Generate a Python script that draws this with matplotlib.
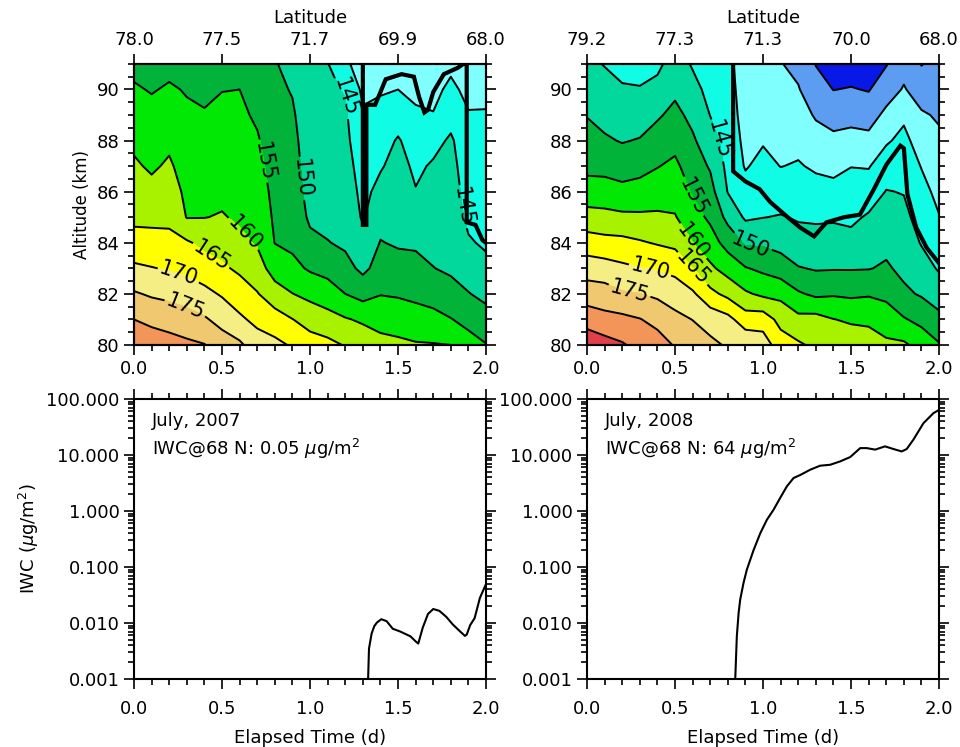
import numpy as np
import matplotlib
matplotlib.use("Agg")
import matplotlib.pyplot as plt
from matplotlib.ticker import MultipleLocator, LogLocator, FormatStrFormatter, NullFormatter

# elapsed time (d) and altitude (km) of the temperature grid
TIME = [0.0, 0.1, 0.2, 0.3, 0.4, 0.5, 0.6, 0.7, 0.8, 0.9, 1.0,
        1.1, 1.2, 1.3, 1.4, 1.5, 1.6, 1.7, 1.8, 1.9, 2.0]
ALT = [80, 81, 82, 83, 84, 85, 86, 87, 88, 89, 90, 91]

# temperature (K) along the trajectory, one row per time, 80..91 km
T_2007 = [
    [184.0, 180.0, 175.5, 170.9, 166.7, 164.0, 162.4, 160.7, 159.0, 157.3, 155.5, 153.8],
    [183.0, 178.7, 174.4, 170.2, 166.7, 163.8, 161.4, 159.3, 157.8, 156.3, 154.7, 153.3],
    [182.0, 177.9, 173.8, 169.6, 166.1, 164.1, 162.4, 160.7, 159.0, 157.3, 155.5, 153.8],
    [181.0, 177.0, 172.7, 168.8, 165.6, 159.8, 158.9, 157.9, 156.8, 155.7, 154.7, 153.6],
    [180.2, 175.6, 171.3, 167.4, 163.7, 159.9, 158.8, 157.7, 156.5, 155.3, 154.2, 153.2],
    [177.5, 173.3, 169.5, 165.8, 162.9, 160.3, 159.0, 158.0, 156.9, 155.9, 154.9, 153.9],
    [175.9, 170.8, 167.5, 164.1, 161.0, 159.4, 158.5, 157.6, 156.8, 155.9, 155.0, 154.0],
    [172.2, 168.8, 165.3, 162.0, 159.6, 158.6, 157.6, 156.5, 155.5, 154.3, 153.3, 152.3],
    [171.2, 167.3, 162.0, 158.0, 154.9, 154.2, 153.6, 153.0, 152.4, 151.7, 151.0, 150.3],
    [169.5, 165.1, 160.1, 156.3, 154.0, 153.2, 152.5, 151.9, 151.3, 150.6, 149.7, 148.6],
    [167.0, 163.2, 158.6, 154.4, 151.2, 149.2, 148.3, 147.8, 147.4, 147.0, 146.5, 145.8],
    [166.3, 161.8, 157.3, 153.4, 150.2, 148.6, 147.8, 147.2, 146.7, 146.2, 145.7, 145.2],
    [164.7, 160.4, 155.0, 151.6, 149.2, 148.2, 147.5, 146.8, 146.1, 145.7, 144.7, 141.0],
    [163.0, 159.3, 153.2, 148.9, 146.5, 144.5, 143.8, 143.0, 142.0, 140.6, 139.0, 137.5],
    [161.5, 158.3, 154.8, 151.8, 150.2, 148.6, 146.3, 144.6, 143.2, 141.5, 139.5, 137.5],
    [161.0, 157.8, 154.5, 151.7, 149.5, 148.5, 147.5, 146.5, 145.4, 143.0, 140.0, 137.5],
    [160.4, 157.2, 153.8, 151.5, 149.3, 147.3, 145.2, 144.2, 143.0, 141.0, 138.5, 136.5],
    [160.3, 156.3, 153.3, 150.1, 148.8, 147.8, 146.8, 145.5, 143.7, 140.2, 138.8, 137.5],
    [160.0, 155.2, 151.6, 149.3, 148.5, 147.8, 147.0, 146.3, 145.6, 143.5, 141.0, 139.0],
    [157.0, 153.5, 150.2, 147.8, 145.5, 144.0, 143.3, 142.8, 142.2, 140.3, 138.8, 137.8],
    [155.2, 151.8, 148.8, 146.3, 144.3, 143.6, 143.0, 142.3, 141.5, 140.3, 139.0, 138.0],
]

T_2008 = [
    [188.5, 182.9, 177.5, 172.8, 167.2, 162.0, 157.0, 153.8, 151.8, 149.8, 147.8, 146.0],
    [187.0, 181.5, 177.2, 172.1, 166.6, 161.5, 157.1, 153.5, 150.6, 148.5, 146.5, 144.8],
    [185.5, 181.2, 175.6, 171.0, 166.4, 161.0, 156.4, 152.7, 149.7, 147.5, 145.4, 143.8],
    [183.5, 180.2, 175.1, 170.2, 165.5, 160.8, 156.9, 153.4, 150.3, 147.7, 145.3, 143.2],
    [182.2, 178.5, 174.1, 169.6, 164.6, 160.8, 157.6, 154.8, 152.1, 149.4, 146.6, 143.8],
    [179.6, 176.3, 172.7, 168.6, 163.8, 160.3, 158.2, 156.0, 153.5, 151.3, 149.0, 147.5],
    [177.8, 174.9, 170.8, 165.1, 160.1, 157.0, 154.5, 152.5, 150.7, 148.7, 146.6, 144.5],
    [176.0, 173.2, 166.3, 160.9, 157.1, 154.1, 151.8, 149.5, 147.1, 144.9, 143.5, 142.5],
    [174.5, 171.5, 163.7, 158.0, 153.2, 148.6, 144.8, 143.7, 143.0, 142.5, 142.0, 141.5],
    [174.0, 167.3, 160.7, 155.3, 149.4, 144.3, 141.9, 139.6, 138.8, 138.0, 137.5, 137.0],
    [172.5, 167.7, 159.0, 154.0, 149.3, 144.9, 143.2, 141.4, 139.6, 138.2, 136.9, 135.8],
    [167.4, 163.4, 158.7, 152.4, 148.4, 145.3, 142.6, 139.9, 138.7, 137.4, 136.2, 135.2],
    [165.7, 161.3, 155.6, 150.3, 146.7, 144.6, 142.5, 140.4, 138.7, 137.0, 135.3, 133.8],
    [164.0, 161.7, 154.0, 149.6, 146.9, 144.3, 141.8, 139.3, 136.9, 134.5, 132.1, 129.8],
    [163.0, 160.1, 154.5, 149.7, 147.1, 144.4, 141.5, 138.7, 136.1, 133.1, 129.9, 127.5],
    [162.6, 159.4, 154.1, 149.7, 146.6, 144.0, 142.0, 139.9, 136.7, 133.4, 130.3, 127.5],
    [162.0, 159.2, 154.5, 149.8, 147.6, 145.6, 142.4, 139.7, 136.3, 133.0, 129.7, 127.5],
    [161.0, 157.4, 153.9, 150.6, 148.8, 146.9, 145.2, 142.6, 139.4, 136.1, 132.8, 129.7],
    [160.8, 155.4, 150.9, 148.9, 147.6, 146.2, 144.8, 142.9, 141.3, 139.1, 135.4, 133.3],
    [158.2, 153.6, 149.5, 147.0, 144.7, 143.1, 141.5, 139.8, 137.7, 135.6, 132.6, 129.8],
    [155.4, 151.3, 147.6, 144.5, 142.3, 140.2, 138.7, 137.5, 135.9, 134.4, 133.0, 131.5],
]

# frost-point boundary (thick line)
FROST_T_2007 = [1.30, 1.30, 1.32, 1.32, 1.37, 1.43, 1.52, 1.59, 1.62, 1.65, 1.67,
                1.70, 1.76, 1.84, 1.87, 1.89, 1.89, 1.94, 1.98, 2.00]
FROST_Z_2007 = [91.0, 84.7, 84.7, 89.4, 89.4, 90.4, 90.6, 90.5, 89.7, 89.1, 89.2,
                89.9, 90.6, 90.85, 91.0, 91.0, 84.8, 84.7, 84.1, 84.0]
FROST_T_2008 = [0.83, 0.83, 0.90, 0.98, 1.04, 1.14, 1.21, 1.29, 1.36, 1.46, 1.55,
                1.63, 1.70, 1.78, 1.80, 1.82, 1.87, 1.93, 2.00]
FROST_Z_2008 = [91.0, 86.8, 86.4, 86.1, 85.6, 85.0, 84.6, 84.25, 84.8, 85.0, 85.1,
                86.1, 87.05, 87.8, 87.7, 85.9, 84.6, 83.8, 83.2]

# ice water content at 68 N
IWC_T_2007 = [1.33, 1.335, 1.35, 1.365, 1.38, 1.405, 1.435, 1.47, 1.51, 1.57, 1.60,
              1.615, 1.64, 1.67, 1.70, 1.735, 1.775, 1.81, 1.85, 1.88, 1.89, 1.91,
              1.935, 1.965, 2.0]
IWC_2007 = [0.001, 0.0035, 0.0065, 0.0088, 0.0102, 0.0117, 0.0108, 0.0079, 0.0071,
            0.0058, 0.0047, 0.0043, 0.0082, 0.0145, 0.0178, 0.0165, 0.0128, 0.0095,
            0.0072, 0.0059, 0.0062, 0.0092, 0.0122, 0.028, 0.05]
IWC_T_2008 = [0.842, 0.851, 0.861, 0.87, 0.889, 0.908, 0.946, 0.984, 1.022, 1.06,
              1.097, 1.135, 1.173, 1.211, 1.268, 1.324, 1.381, 1.438, 1.495, 1.552,
              1.589, 1.637, 1.693, 1.741, 1.788, 1.816, 1.854, 1.911, 1.968, 2.0]
IWC_2008 = [0.001, 0.0058, 0.015, 0.026, 0.052, 0.09, 0.2, 0.4, 0.7, 1.06,
            1.71, 2.75, 3.88, 4.4, 5.47, 6.45, 6.7, 7.7, 9.2, 13.3,
            13.3, 12.5, 14.3, 12.8, 11.6, 12.8, 18.8, 37.0, 56.0, 64.0]

LAT_2007 = ["78.0", "77.5", "71.7", "69.9", "68.0"]
LAT_2008 = ["79.2", "77.3", "71.3", "70.0", "68.0"]
TITLE_2007 = ["July, 2007", "0.05"]
TITLE_2008 = ["July, 2008", "64"]

FILL_LEVELS = [100, 130, 135, 140, 145, 150, 155, 160, 165, 170, 175, 180, 185, 200]
LABEL_LEVELS = [145, 150, 155, 160, 165, 170, 175]
PLAIN_LEVELS = [130, 135, 140, 180, 185]
FILL_COLORS = ["#0818E6", "#5C9DF2", "#80FFFF", "#10FCE4", "#02D89C", "#02B33A",
               "#00E804", "#A8F200", "#FFFF00", "#F5EE85", "#EFC86F", "#F39458",
               "#E23F4B"]

FS = 13


def style_ticks(ax):
    ax.tick_params(which="both", direction="out", labelsize=FS, width=1.2)
    ax.tick_params(which="major", length=7)
    ax.tick_params(which="minor", length=4)
    for s in ax.spines.values():
        s.set_linewidth(1.5)


def draw_temp(ax, temps, frost_t, frost_z, lats, label_pos, ylabel=None):
    T = np.array(temps).T
    ax.contourf(TIME, ALT, T, levels=FILL_LEVELS, colors=FILL_COLORS)
    ax.contour(TIME, ALT, T, levels=PLAIN_LEVELS, colors="k", linewidths=1.4)
    cs = ax.contour(TIME, ALT, T, levels=LABEL_LEVELS, colors="k", linewidths=1.4)
    ax.clabel(cs, manual=label_pos, fmt="%d", fontsize=15, inline=True, inline_spacing=2)
    ax.plot(frost_t, frost_z, color="k", lw=3.0, solid_joinstyle="miter")
    ax.set_xlim(0, 2)
    ax.set_ylim(80, 91)
    ax.xaxis.set_major_locator(MultipleLocator(0.5))
    ax.xaxis.set_minor_locator(MultipleLocator(0.1))
    ax.xaxis.set_major_formatter(FormatStrFormatter("%.1f"))
    ax.yaxis.set_major_locator(MultipleLocator(2))
    ax.yaxis.set_minor_locator(MultipleLocator(0.5))
    style_ticks(ax)
    ax.tick_params(which="both", right=True)
    if ylabel:
        ax.set_ylabel(ylabel, fontsize=12)

    top = ax.twiny()
    top.set_xlim(0, 2)
    top.set_xticks([0, 0.5, 1.0, 1.5, 2.0])
    top.set_xticklabels(lats)
    top.set_xlabel("Latitude", fontsize=FS, labelpad=6)
    style_ticks(top)


def draw_iwc(ax, t, iwc, title, ylabel=None):
    ax.plot(t, iwc, color="k", lw=1.5)
    ax.set_yscale("log")
    ax.set_xlim(0, 2)
    ax.set_ylim(0.001, 100)
    ax.xaxis.set_major_locator(MultipleLocator(0.5))
    ax.xaxis.set_minor_locator(MultipleLocator(0.1))
    ax.xaxis.set_major_formatter(FormatStrFormatter("%.1f"))
    ax.yaxis.set_major_locator(LogLocator(base=10, numticks=10))
    ax.yaxis.set_minor_locator(LogLocator(base=10, subs=np.arange(2, 10), numticks=20))
    ax.yaxis.set_major_formatter(FormatStrFormatter("%.3f"))
    ax.yaxis.set_minor_formatter(NullFormatter())
    style_ticks(ax)
    ax.tick_params(which="both", top=True, right=True)
    ax.tick_params(axis="x", pad=8)
    ax.set_xlabel("Elapsed Time (d)", fontsize=FS, labelpad=8)
    if ylabel:
        ax.set_ylabel(ylabel, fontsize=FS)
    ax.text(0.05, 0.955, title[0] + "\nIWC@68 N: " + title[1] + r" $\mu$g/m$^2$",
            transform=ax.transAxes, ha="left", va="top", fontsize=FS, linespacing=1.4)


fig = plt.figure(figsize=(9.6, 7.47), dpi=100)
ax_t07 = fig.add_axes([0.1396, 0.5382, 0.3667, 0.3762])
ax_t08 = fig.add_axes([0.6115, 0.5382, 0.3667, 0.3762])
ax_i07 = fig.add_axes([0.1396, 0.0910, 0.3667, 0.3748])
ax_i08 = fig.add_axes([0.6115, 0.0910, 0.3667, 0.3748])

draw_temp(ax_t07, T_2007, FROST_T_2007, FROST_Z_2007, LAT_2007,
          [(1.21, 89.7), (1.86, 85.4), (0.93, 86.5), (0.74, 87.2), (0.63, 84.4),
           (0.45, 83.65), (0.26, 82.9), (0.29, 81.45)],
          ylabel="Altitude (km)")
draw_temp(ax_t08, T_2008, FROST_T_2008, FROST_Z_2008, LAT_2008,
          [(0.74, 88.0), (0.93, 84.0), (0.6, 85.8), (0.6, 84.05), (0.6, 83.0),
           (0.36, 83.0), (0.24, 82.1)])

draw_iwc(ax_i07, IWC_T_2007, IWC_2007, TITLE_2007, ylabel=r"IWC ($\mu$g/m$^2$)")
draw_iwc(ax_i08, IWC_T_2008, IWC_2008, TITLE_2008)

fig.savefig("out.png", dpi=100)
